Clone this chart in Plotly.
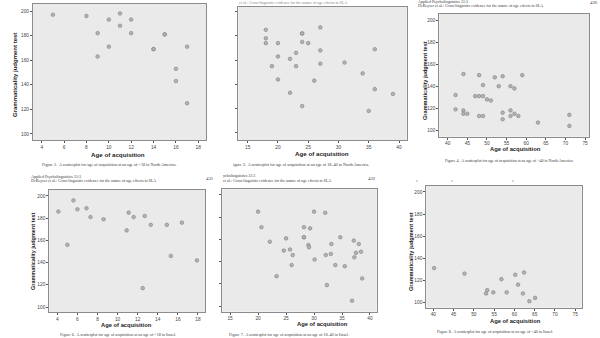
import plotly.graph_objects as go

# ---- data: age of acquisition vs grammaticality judgment score ----
na_under18_age = [5, 8, 11, 10, 12, 11, 9, 12, 15, 15, 10, 17, 14, 14, 9, 16, 16, 17]
na_under18_score = [197, 196, 198, 193, 193, 188, 182, 182, 181, 181, 171, 171, 169, 169, 163, 153, 143, 125]

na_18to40_age = [18, 18, 18, 20, 27, 24, 24, 24, 25, 27, 36, 23, 20, 22, 19, 23, 27, 31, 34, 20,
                 26, 36, 39, 22, 24, 35]
na_18to40_score = [185, 178, 174, 174, 187, 182, 182, 175, 174, 168, 169, 166, 163, 161, 155, 155,
                   157, 158, 149, 144, 143, 136, 132, 133, 122, 118]

na_over40_age = [44, 48, 54, 52, 59, 49, 53, 56, 57, 42, 47, 48, 49, 50, 51, 42, 44, 44, 45, 54,
                 56, 57, 48, 49, 56, 58, 54, 63, 71, 71]
na_over40_score = [151, 150, 149, 148, 150, 141, 140, 140, 138, 132, 131, 131, 131, 128, 127, 119,
                   118, 115, 115, 116, 118, 115, 113, 113, 113, 113, 110, 107, 114, 104]

il_under18_age = [4.1, 5.0, 5.6, 6.0, 6.9, 7.3, 8.6, 10.9, 11.1, 11.6, 12.7, 13.3, 14.9, 16.4,
                  15.3, 17.9, 12.5]
il_under18_score = [186, 156, 196, 188, 189, 181, 179, 169, 185, 181, 182, 174, 174, 176, 146,
                    142, 117]

il_18to40_age = [20, 20.6, 22.1, 25, 24.6, 25.7, 26.2, 26, 23.3, 28.2, 28.2, 28.2, 29.3, 29, 29.1,
                 30, 30.1, 32, 32.1, 32.3, 33, 33.1, 33.8, 34.7, 35.5, 37.1, 38, 37.5, 37.2, 38.4,
                 38.6, 36.8]
il_18to40_score = [185, 171, 158, 161, 150, 151, 146, 137, 127, 171, 162, 162, 170, 155, 153, 185,
                   142, 184, 146, 119, 147, 156, 137, 162, 136, 159, 156, 148, 144, 149, 125, 105]

il_over40_age = [40.2, 47.7, 56.8, 60.2, 62.4, 60.9, 53.3, 53.0, 54.8, 58.1, 62.1, 65.1, 63.7]
il_over40_score = [131, 126, 121, 125, 127, 116, 111, 108, 109, 109, 108, 104, 101]

y_ticks = [100, 120, 140, 160, 180, 200]

W, H = 600, 338


def fx(p):
    return p / W


def fy(p):
    return 1 - p / H


# panel boxes in pixels (left, top, right, bottom), axis ranges, x tick step, y labels shown
panels = [
    dict(x=na_under18_age, y=na_under18_score, box=(33, 4, 206, 140),
         xr=[3.22, 18.69], yr=[95.1, 205.7], dtick=2, tick0=4, ylab=True),
    dict(x=na_18to40_age, y=na_18to40_score, box=(238.3, 6.7, 406.7, 140),
         xr=[13.45, 41.27], yr=[94.0, 204.1], dtick=5, tick0=15, ylab=False),
    dict(x=na_over40_age, y=na_over40_score, box=(439.3, 13.5, 589, 136.7),
         xr=[37.86, 76.0], yr=[94.2, 205.9], dtick=5, tick0=40, ylab=True),
    dict(x=il_under18_age, y=il_under18_score, box=(49.3, 190, 205, 312),
         xr=[3.2, 18.7], yr=[95.5, 205.4], dtick=2, tick0=4, ylab=True),
    dict(x=il_18to40_age, y=il_18to40_score, box=(221.7, 189.3, 376.7, 311.7),
         xr=[13.5, 41.2], yr=[95.1, 205.1], dtick=5, tick0=15, ylab=False),
    dict(x=il_over40_age, y=il_over40_score, box=(426.3, 185.7, 581.7, 307.7),
         xr=[38.27, 76.6], yr=[95.1, 205.7], dtick=5, tick0=40, ylab=True),
]

fig = go.Figure()
layout = dict(
    width=W, height=H, autosize=False,
    margin=dict(l=0, r=0, t=0, b=0),
    paper_bgcolor="white", plot_bgcolor="#eaeaea",
    showlegend=False,
)

axis_common = dict(
    showgrid=False, zeroline=False, showline=True, mirror=True,
    linecolor="#8c8c8c", linewidth=1, ticks="outside", ticklen=2,
    tickcolor="#555555", tickwidth=0.8,
    tickfont=dict(family="Liberation Sans, Arial", size=4.8, color="#444444"),
)

for i, p in enumerate(panels, start=1):
    sx = "" if i == 1 else str(i)
    l, t, r, b = p["box"]
    fig.add_trace(go.Scatter(
        x=p["x"], y=p["y"], mode="markers",
        xaxis="x" + sx, yaxis="y" + sx,
        marker=dict(size=3.6, color="#b4b4b4", line=dict(color="#7e7e7e", width=0.6)),
        hoverinfo="skip",
    ))
    layout["xaxis" + sx] = dict(
        axis_common, domain=[fx(l), fx(r)], range=p["xr"], anchor="y" + sx,
        tickmode="linear", tick0=p["tick0"], dtick=p["dtick"],
    )
    layout["yaxis" + sx] = dict(
        axis_common, domain=[fy(b), fy(t)], range=p["yr"], anchor="x" + sx,
        tickvals=y_ticks, showticklabels=p["ylab"],
    )

fig.update_layout(**layout)

SANS = "Liberation Sans, Arial"
SERIF = "Liberation Serif, Times New Roman"


def label(text, x, y, size, family=SERIF, bold=False, angle=0, xanchor="center",
          color="#3a3a3a"):
    fig.add_annotation(
        text=f"<b>{text}</b>" if bold else text,
        x=fx(x), y=fy(y), xref="paper", yref="paper",
        xanchor=xanchor, yanchor="middle", showarrow=False, textangle=angle,
        font=dict(family=family, size=size, color=color),
    )


AXIS_T = "Age of acquisition"
Y_T = "Grammaticality judgment test"
HEAD_1 = "Applied Psycholinguistics 31:3"
HEAD_2 = "DeKeyser et al.: Cross-linguistic evidence for the nature of age effects in SLA"

# top row
label(Y_T, 15, 75, 6, SANS, True, -90, color="#222222")
label(AXIS_T, 118, 154, 6.2, SANS, True, color="#222222")
label("Figure 2.  A scatterplot for age of acquisition at an age of &lt;18 in North America.",
      109, 165, 4.2)

label("et al.: Cross-linguistic evidence for the nature of age effects in SLA", 237, 2, 4,
      xanchor="left", color="#888888")
label(AXIS_T, 322, 153, 6.2, SANS, True, color="#222222")
label("igure 3.  A scatterplot for age of acquisition at an age of 18–40 in North America.",
      231, 164, 4.2, xanchor="left")

label(HEAD_1, 416, 1.9, 4, xanchor="left")
label(HEAD_2, 416, 6, 4, xanchor="left")
label("426", 594, 2, 4.8)
label(Y_T, 425, 81, 5.6, SANS, True, -90, color="#222222")
label(AXIS_T, 515, 149, 5.8, SANS, True, color="#222222")
label("Figure 4.  A scatterplot for age of acquisition at an age of &gt;40 in North America.",
      509, 160, 4)

# bottom row
label(HEAD_1, 29, 176, 4, xanchor="left")
label(HEAD_2, 29, 180.5, 4, xanchor="left")
label("431", 210, 178, 4.8)
label(Y_T, 33, 252, 5.5, SANS, True, -90, color="#222222")
label(AXIS_T, 126, 325, 5.8, SANS, True, color="#222222")
label("Figure 6.  A scatterplot for age of acquisition at an age of &lt;18 in Israel.",
      118, 334, 4.1)

label("ycholinguistics 31:3", 221, 175, 4, xanchor="left")
label("et al.: Cross-linguistic evidence for the nature of age effects in SLA", 221, 180, 4,
      xanchor="left")
label("432", 372, 178, 4.8)
label(AXIS_T, 322, 324, 5.8, SANS, True, color="#222222")
label("Figure 7.  A scatterplot for age of acquisition at an age of 18–40 in Israel.",
      289, 334, 4.1)

label(Y_T, 411, 252, 5.6, SANS, True, -90, color="#222222")
label(AXIS_T, 515, 321, 5.8, SANS, True, color="#222222")
label("Figure 8.  A scatterplot for age of acquisition at an age of &gt;40 in Israel.",
      495, 331, 4.1)

# small specks left over from the page above the last panel
for sx in (417, 452, 513):
    fig.add_shape(type="line", xref="paper", yref="paper",
                  x0=fx(sx - 1), x1=fx(sx + 1), y0=fy(181), y1=fy(181),
                  line=dict(color="#999999", width=0.8))

fig.write_html("out.html", config={"displayModeBar": False})
